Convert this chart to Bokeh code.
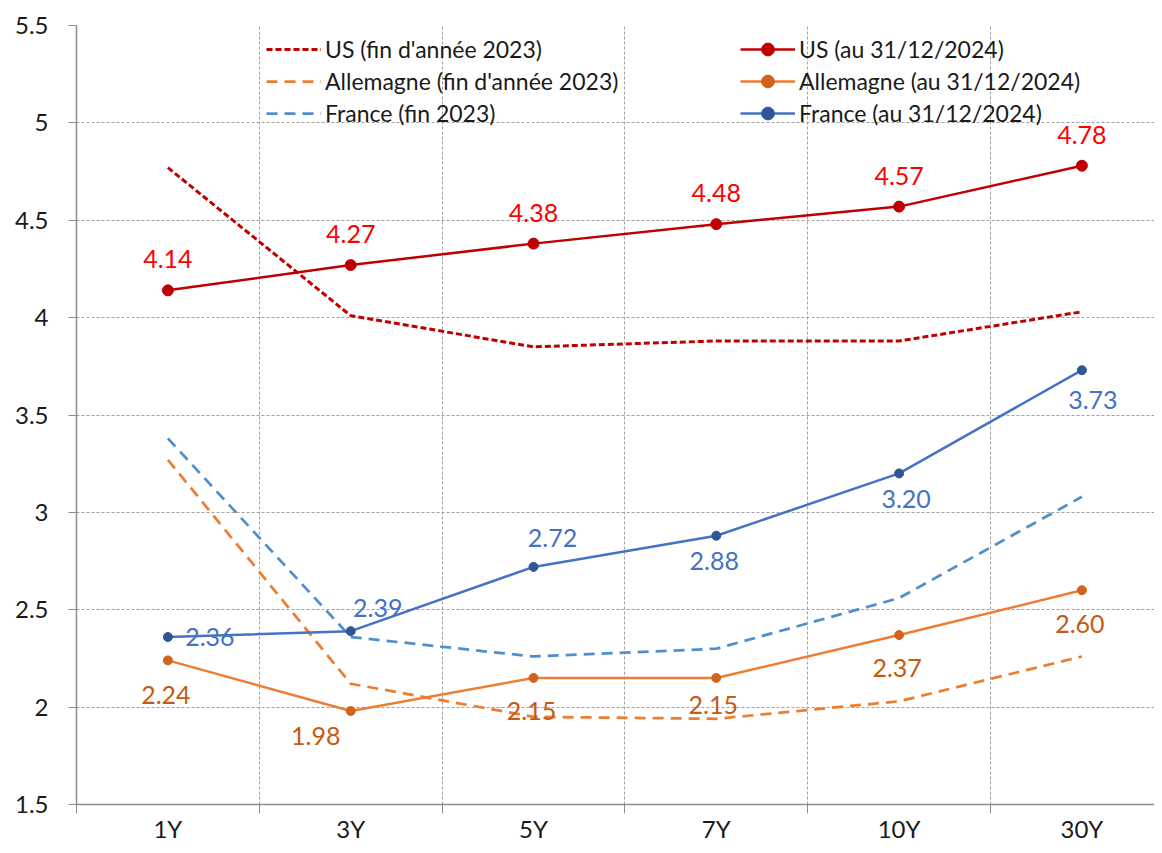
from bokeh.plotting import figure
from bokeh.models import ColumnDataSource, FixedTicker, Legend, LegendItem, Range1d
from bokeh.core.properties import value
from bokeh.embed import file_html
from bokeh.resources import INLINE

# ---------------- data ----------------
categories = ["1Y", "3Y", "5Y", "7Y", "10Y", "30Y"]
us_2023 = [4.77, 4.01, 3.85, 3.88, 3.88, 4.03]
de_2023 = [3.27, 2.12, 1.95, 1.94, 2.03, 2.26]
fr_2023 = [3.38, 2.36, 2.26, 2.30, 2.56, 3.08]
us_2024 = [4.14, 4.27, 4.38, 4.48, 4.57, 4.78]
de_2024 = [2.24, 1.98, 2.15, 2.15, 2.37, 2.60]
fr_2024 = [2.36, 2.39, 2.72, 2.88, 3.20, 3.73]
y_ticks = [1.5, 2.0, 2.5, 3.0, 3.5, 4.0, 4.5, 5.0, 5.5]
y_tick_labels = ["1.5", "2", "2.5", "3", "3.5", "4", "4.5", "5", "5.5"]

# label placement (screen px offsets from each point)
us_dx = [0, 0, 0, 0, 0, 0]
us_dy = [-31, -31, -31, -31, -31, -31]
de_dx = [-2, -35, -2, -3, -2, -2]
de_dy = [35, 25, 33, 27, 33, 34]
fr_dx = [42, 27, 19, -2, 7, 11]
fr_dy = [0, -23, -29, 25, 26, 30]

FONT = "Lato"
n = len(categories)
xs = [i + 0.5 for i in range(n)]

W, H = 1154, 845
LEFT, TOP, BOTTOM = 76, 25, 41
p = figure(width=W, height=H, output_backend="svg", toolbar_location=None,
           x_range=Range1d(0, (W - LEFT) / 182.8), y_range=Range1d(1.5, 5.5),
           min_border_left=LEFT, min_border_right=0, min_border_top=TOP, min_border_bottom=BOTTOM)
p.outline_line_color = None
p.background_fill_color = "white"

# grids
p.xgrid.ticker = FixedTicker(ticks=list(range(n + 1)))
p.ygrid.ticker = FixedTicker(ticks=y_ticks)
for g in (p.xgrid, p.ygrid):
    g.grid_line_color = "#A0A0A0"
    g.grid_line_dash = "3 2"
    g.grid_line_width = 1

# x axis
xa = p.xaxis[0]
xa.ticker = FixedTicker(ticks=xs, minor_ticks=list(range(n + 1)))
xa.major_label_overrides = {x: c for x, c in zip(xs, categories)}
xa.major_tick_out = 0
xa.major_tick_in = 0
xa.minor_tick_out = 9
xa.minor_tick_in = 0
xa.minor_tick_line_color = "#8C8C8C"
xa.axis_line_color = "#8C8C8C"
xa.axis_line_width = 1.5
xa.major_label_text_font = FONT
xa.major_label_text_font_size = "24px"
xa.major_label_text_color = "#1a1a1a"
xa.major_label_standoff = 0

# y axis
ya = p.yaxis[0]
ya.ticker = FixedTicker(ticks=y_ticks)
ya.major_label_overrides = {t: l for t, l in zip(y_ticks, y_tick_labels)}
ya.major_tick_out = 8
ya.major_tick_in = 0
ya.minor_tick_out = 0
ya.minor_tick_in = 0
ya.major_tick_line_color = "#8C8C8C"
ya.axis_line_color = "#8C8C8C"
ya.axis_line_width = 1.5
ya.major_label_text_font = FONT
ya.major_label_text_font_size = "24px"
ya.major_label_text_color = "#1a1a1a"
ya.major_label_standoff = 20

US_LINE = "#C00000"
DE_LINE = "#ED7D31"
FR_LINE = "#4472C4"
FR_2023 = "#4F8FCB"

# dashed 2023 curves
r_us23 = p.line(xs, us_2023, line_color=US_LINE, line_width=3, line_dash="6 3")
r_de23 = p.line(xs, de_2023, line_color=DE_LINE, line_width=2.75, line_dash="11 7")
r_fr23 = p.line(xs, fr_2023, line_color=FR_2023, line_width=2.75, line_dash="11 7")

# solid 2024 curves
r_us24l = p.line(xs, us_2024, line_color=US_LINE, line_width=2.5)
r_us24m = p.scatter(xs, us_2024, size=11, fill_color=US_LINE, line_color=US_LINE)
r_de24l = p.line(xs, de_2024, line_color=DE_LINE, line_width=2.5)
r_de24m = p.scatter(xs, de_2024, size=9, fill_color="#D0641C", line_color="#D0641C")
r_fr24l = p.line(xs, fr_2024, line_color=FR_LINE, line_width=2.5)
r_fr24m = p.scatter(xs, fr_2024, size=9, fill_color="#2F5597", line_color="#2F5597")

def add_labels(vals, dx, dy, color):
    src = ColumnDataSource(dict(x=xs, y=vals, t=["%.2f" % v for v in vals], dx=dx, dy=dy))
    p.text(x="x", y="y", text="t", x_offset="dx", y_offset="dy", source=src,
           text_align="center", text_baseline="middle", text_color=color,
           text_font=value(FONT), text_font_size="25px")

add_labels(us_2024, us_dx, us_dy, "#FF0000")
add_labels(de_2024, de_dx, de_dy, "#C55A11")
add_labels(fr_2024, fr_dx, fr_dy, "#4472C4")

frame_h = H - TOP - BOTTOM
def make_legend(items, x):
    lg = Legend(items=items, location=(x, frame_h - 8 - 96), orientation="vertical",
                glyph_width=55, glyph_height=32, label_height=32, label_standoff=4,
                spacing=0, padding=0, margin=0,
                label_text_font=FONT, label_text_font_size="23px", label_text_color="#1a1a1a",
                background_fill_alpha=0, border_line_color=None)
    p.add_layout(lg, "center")

make_legend([
    LegendItem(label="US (fin d'année 2023)", renderers=[r_us23]),
    LegendItem(label="Allemagne (fin d'année 2023)", renderers=[r_de23]),
    LegendItem(label="France (fin 2023)", renderers=[r_fr23]),
], 190)
make_legend([
    LegendItem(label="US (au 31/12/2024)", renderers=[r_us24l, r_us24m]),
    LegendItem(label="Allemagne (au 31/12/2024)", renderers=[r_de24l, r_de24m]),
    LegendItem(label="France (au 31/12/2024)", renderers=[r_fr24l, r_fr24m]),
], 664)

open("out.html", "w").write(file_html(p, INLINE))
